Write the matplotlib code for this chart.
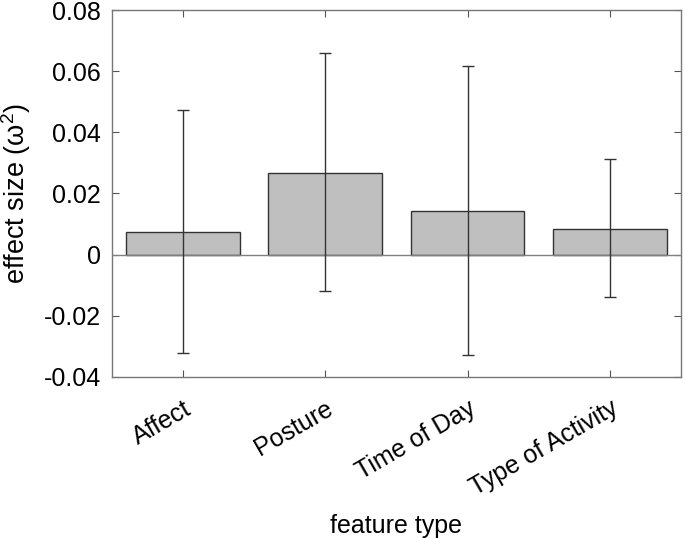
import matplotlib.pyplot as plt

categories = ['Affect', 'Posture', 'Time of Day', 'Type of Activity']
effect = [0.0073, 0.0268, 0.0144, 0.0083]
ci_upper = [0.0473, 0.0659, 0.0618, 0.0312]
ci_lower = [-0.0323, -0.0119, -0.0329, -0.0139]
yticks = [-0.04, -0.02, 0, 0.02, 0.04, 0.06, 0.08]
yticklabels = ['-0.04', '-0.02', '0', '0.02', '0.04', '0.06', '0.08']

plt.rcParams['font.family'] = ['Liberation Sans', 'DejaVu Sans']
plt.rcParams['mathtext.fontset'] = 'custom'
plt.rcParams['mathtext.rm'] = 'Liberation Sans'
fs = 18

fig = plt.figure(figsize=(6.85, 5.38), dpi=100)
ax = fig.add_axes([0.1635, 0.2993, 0.8305, 0.6821])

x = list(range(1, len(categories) + 1))
ax.bar(x, effect, width=0.8, color='#bfbfbf', edgecolor='#333333',
       linewidth=1, zorder=2)
ax.axhline(0, color='#808080', linewidth=1, zorder=3)

err_lo = [e - lo for e, lo in zip(effect, ci_lower)]
err_hi = [hi - e for e, hi in zip(effect, ci_upper)]
ax.errorbar(x, effect, yerr=[err_lo, err_hi], fmt='none', ecolor='#333333',
            elinewidth=1, capsize=4, capthick=1, zorder=4)

ax.set_xlim(0.5, 4.5)
ax.set_ylim(-0.04, 0.08)
ax.set_yticks(yticks)
ax.set_yticklabels(yticklabels, fontsize=fs)
ax.set_xticks(x)
ax.set_xticklabels(categories, fontsize=fs, rotation=30, ha='right',
                   rotation_mode='anchor')

ax.tick_params(direction='in', length=5, width=0.8, color='#555555',
               top=True, right=True)
ax.tick_params(axis='x', pad=14)
ax.tick_params(axis='y', pad=8)
for s in ax.spines.values():
    s.set_color('#777777')
    s.set_linewidth(1)

ax.set_xlabel('feature type', fontsize=fs, labelpad=10)
ax.set_ylabel('effect size (\u03c9$\\mathregular{^2}$)', fontsize=19.5, labelpad=8)

fig.savefig('out.png', dpi=100)
